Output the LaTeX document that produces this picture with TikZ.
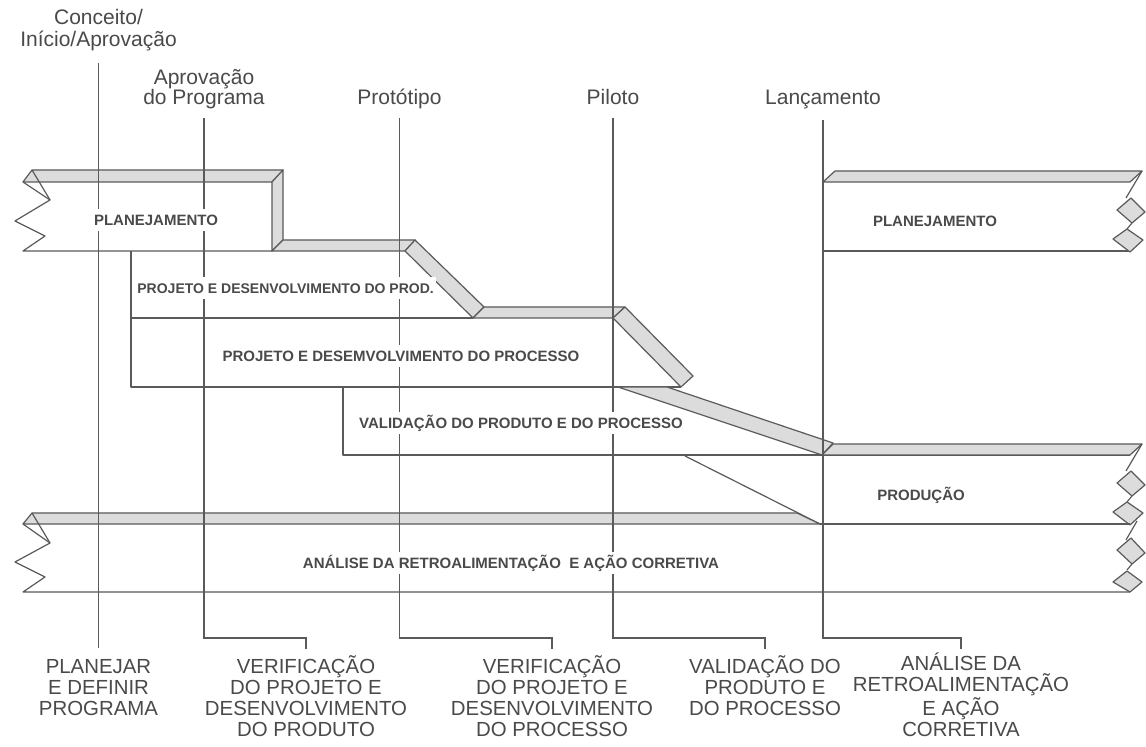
\documentclass[tikz,border=0pt]{standalone}
\usepackage{fontspec}
\setmainfont{Liberation Sans}
\usetikzlibrary{positioning}
\definecolor{linec}{HTML}{5A5A5A}
\definecolor{stripc}{HTML}{DCDCDC}
\definecolor{textc}{HTML}{4A4A4A}

\begin{document}
\begin{tikzpicture}[
    x=0.5pt, y=-0.5pt,
    outline/.style={draw=linec, line width=0.6pt, line join=round},
    strip/.style={outline, fill=stripc},
    mile/.style={draw=linec, line width=0.6pt},
    barlbl/.style={font=\bfseries\fontsize{7.5}{9}\selectfont, text=textc, fill=white,
      inner xsep=1pt, inner ysep=3pt, text height=5.4pt, text depth=0pt},
    toplbl/.style={font=\fontsize{10.5}{11}\selectfont, text=textc, align=center, anchor=base, inner sep=0pt},
    botlbl/.style={font=\fontsize{10.2}{10.5}\selectfont, text=textc, align=center, anchor=base, inner sep=0pt},
    torn/.pic={
      \draw[outline] (12,-11) -- (-4,16);
      \draw[strip] (-13,28) -- (1,16) -- (15,30) -- (2,41) -- cycle;
      \draw[outline] (2,41) -- (-3,47);
      \draw[strip] (-17,57) -- (-3,47) -- (13,58) -- (0,70) -- cycle;
    },
    tornlow/.pic={
      \draw[outline] (7,-3) -- (-4,16);
      \draw[strip] (-13,26) -- (1,14) -- (15,29) -- (2,40) -- cycle;
      \draw[outline] (2,40) -- (-3,46);
      \draw[strip] (-17,58) -- (-3,47) -- (12,58) -- (0,68) -- cycle;
    }
  ]
  \useasboundingbox[fill=white] (0,0) rectangle (1146,747);

  % planejamento (left)
  \draw[strip] (23,182) -- (32,170) -- (283,170) -- (272,182) -- cycle;
  \draw[strip] (272,182) -- (283,170) -- (283,240) -- (272,251) -- cycle;
  \draw[outline] (272,251) -- (23,251) -- (45,236) -- (15,221) -- (50,200) -- (23,182);
  \draw[outline] (32,170) -- (50,200);

  % projeto do produto / processo
  \draw[strip] (272,251) -- (283,240) -- (415,240) -- (405,251) -- cycle;
  \draw[strip] (405,251) -- (415,240) -- (484,307) -- (473,318) -- cycle;
  \draw[strip] (473,318) -- (484,307) -- (625,307) -- (613,318) -- cycle;
  \draw[strip] (613,318) -- (625,307) -- (693,376) -- (681,387) -- cycle;
  \draw[outline] (131,251) -- (131,387) -- (681,387);
  \draw[outline] (131,318) -- (473,318);

  % validacao
  \draw[strip] (618,387) -- (667,387) -- (833,443) -- (822,455) -- cycle;
  \draw[outline] (343,387) -- (343,455) -- (1130,455);

  % producao
  \draw[strip] (822,455) -- (833,444) -- (1142,444) -- (1130,455) -- cycle;
  \draw[outline] (685,456) -- (820,524);
  \pic at (1130,455) {torn};

  % analise
  \draw[strip] (23,524) -- (32,513) -- (797,513) -- (820,524) -- cycle;
  \draw[outline] (820,524) -- (1130,524);
  \draw[outline] (1130,592) -- (23,592) -- (45,577) -- (15,562) -- (50,543) -- (23,524);
  \draw[outline] (32,513) -- (50,543);
  \pic at (1130,524) {tornlow};

  % planejamento (right)
  \draw[strip] (823,182) -- (835,171) -- (1142,171) -- (1130,182) -- cycle;
  \draw[outline] (823,182) -- (823,251) -- (1130,251);
  \pic at (1130,182) {torn};

  % marcos (base = last line)
  \node[toplbl] (tConc) at (98.5,47) {Conceito/\\Início/Aprovação};
  \node[toplbl, font=\fontsize{10.5}{10}\selectfont] (tAprov) at (204,105) {Aprovação\\do Programa};
  \node[toplbl] (tProto) at (399.5,105) {Protótipo};
  \node[toplbl] (tPil) at (613,105) {Piloto};
  \node[toplbl] (tLanc) at (823,105) {Lançamento};

  \node[botlbl] (bPlan) at (98.5,716) {PLANEJAR\\E DEFINIR\\PROGRAMA};
  \node[botlbl] (bVerProd) at (306,737) {VERIFICAÇÃO\\DO PROJETO E\\DESENVOLVIMENTO\\DO PRODUTO};
  \node[botlbl] (bVerProc) at (552,737) {VERIFICAÇÃO\\DO PROJETO E\\DESENVOLVIMENTO\\DO PROCESSO};
  \node[botlbl] (bValid) at (765,716) {VALIDAÇÃO DO\\PRODUTO E\\DO PROCESSO};
  \node[botlbl] (bAnal) at (961,737) {ANÁLISE DA\\RETROALIMENTAÇÃO\\E AÇÃO\\CORRETIVA};

  \draw[mile] (tConc.south |- 0,63) -- (bPlan.north |- 0,648);
  \draw[mile] (tAprov.south |- 0,118) |- (bVerProd.north |- 0,638) -- (bVerProd.north |- 0,649);
  \draw[mile] (tProto.south |- 0,118) |- (bVerProc.north |- 0,638) -- (bVerProc.north |- 0,649);
  \draw[mile] (tPil.south |- 0,118) |- (bValid.north |- 0,638) -- (bValid.north |- 0,649);
  \draw[mile] (tLanc.south |- 0,120) |- (bAnal.north |- 0,638) -- (bAnal.north |- 0,649);

  % rotulos das faixas
  \node[barlbl] (lPlanL) at (156,220) {PLANEJAMENTO};
  \node[barlbl, anchor=west, font=\bfseries\fontsize{7}{9}\selectfont] (lProd) at (135,288) {PROJETO E DESENVOLVIMENTO DO PROD.};
  \node[barlbl] (lProc) at (401,356) {PROJETO E DESEMVOLVIMENTO DO PROCESSO};
  \node[barlbl] (lValid) at (521,423) {VALIDAÇÃO DO PRODUTO E DO PROCESSO};
  \node[barlbl] (lPlanR) at (935,221) {PLANEJAMENTO};
  \node[barlbl] (lProdu) at (921,495) {PRODUÇÃO};
  \node[barlbl] (lAnal) at (511,563) {ANÁLISE DA RETROALIMENTAÇÃO\ \ E AÇÃO CORRETIVA};
\end{tikzpicture}
\end{document}
